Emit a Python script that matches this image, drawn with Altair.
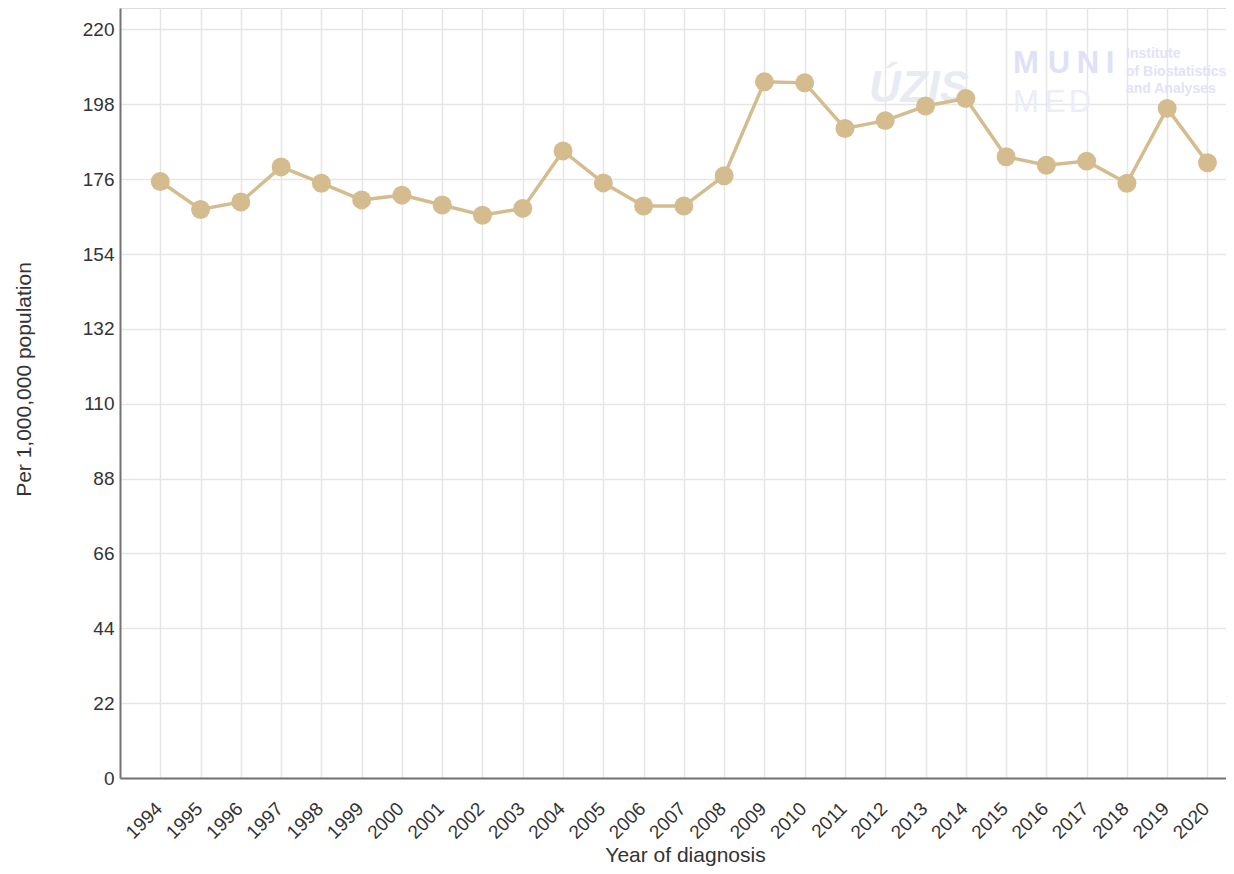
import altair as alt
import pandas as pd

years = list(range(1994, 2021))
rates = [175.3, 167.1, 169.3, 179.6, 174.8, 169.9, 171.3, 168.4, 165.4, 167.4,
         184.3, 174.9, 168.1, 168.1, 177.0, 204.6, 204.3, 190.9, 193.2, 197.5,
         199.7, 182.6, 180.1, 181.3, 174.8, 196.8, 180.8]
y_ticks = [0, 22, 44, 66, 88, 110, 132, 154, 176, 198, 220]

x_title = "Year of diagnosis"
y_title = "Per 1,000,000 population"

df = pd.DataFrame({"year": years, "rate": rates})
one = pd.DataFrame({"k": [0]})

COLOR = "#d4bc8f"
FONT = "Liberation Sans"

x_enc = alt.X(
    "year:Q",
    scale=alt.Scale(domain=[1993, 2020.46], nice=False, zero=False),
    axis=alt.Axis(
        values=years, format="d", labelAngle=-45, labelAlign="right",
        labelBaseline="top", labelPadding=21, labelOffset=-8, labelFontSize=19,
        labelColor="#333333", labelFont=FONT, ticks=False,
        domainColor="#737373", domainWidth=2,
        gridColor="#e6e6e6", gridWidth=1.5,
        title=x_title, titleFontSize=21, titleFont=FONT,
        titleFontWeight="normal", titleColor="#333333",
        titleX=565, titleY=83, titleBaseline="alphabetic", titleAlign="center",
        labelOverlap=False,
    ),
)
y_enc = alt.Y(
    "rate:Q",
    scale=alt.Scale(domain=[0, 226.3], nice=False),
    axis=alt.Axis(
        values=y_ticks, labelFontSize=19, labelColor="#333333", labelFont=FONT,
        ticks=False, labelPadding=6,
        domainColor="#737373", domainWidth=2,
        gridColor="#e6e6e6", gridWidth=1.5,
        title=y_title, titleFontSize=21, titleFont=FONT,
        titleFontWeight="normal", titleColor="#333333",
        titleX=-96, titleY=371, titleAngle=270, titleBaseline="middle",
        titleAlign="center",
    ),
)

line = alt.Chart(df).mark_line(color=COLOR, strokeWidth=3.5).encode(x=x_enc, y=y_enc)
points = alt.Chart(df).mark_point(
    filled=True, shape="circle", size=360, color=COLOR, opacity=1
).encode(x="year:Q", y="rate:Q")

wm = []
wm.append(alt.Chart(one).mark_text(text="ÚZIS", font=FONT, fontSize=44, fontStyle="italic",
                                    fontWeight="bold", color="#e8ecf2", align="center",
                                    baseline="alphabetic").encode(x=alt.value(799), y=alt.value(94)))
for ch, xx in zip("MUNI", [906, 939, 968, 990]):
    wm.append(alt.Chart(one).mark_text(text=ch, font=FONT, fontSize=31, fontWeight="bold",
                                        color="#e0e0f8", align="center",
                                        baseline="alphabetic").encode(x=alt.value(xx), y=alt.value(65)))
for ch, xx in zip("MED", [906, 935, 960]):
    wm.append(alt.Chart(one).mark_text(text=ch, font=FONT, fontSize=31,
                                        color="#ececfb", align="center",
                                        baseline="alphabetic").encode(x=alt.value(xx), y=alt.value(104)))
for txt, yy in [("Institute", 50), ("of Biostatistics", 68), ("and Analyses", 85)]:
    wm.append(alt.Chart(one).mark_text(text=txt, font=FONT, fontSize=14, fontWeight="bold",
                                        color="#e2e2f8", align="left",
                                        baseline="alphabetic").encode(x=alt.value(1006), y=alt.value(yy)))

chart = alt.layer(*wm, line, points).properties(
    width=1106, height=770,
    autosize=alt.AutoSizeParams(type="none"),
    padding={"left": 112, "top": 0, "right": 0, "bottom": 88},
).configure_view(stroke=None).configure(background="white")

chart.save("out.html", embed_options={"renderer": "svg", "actions": False})
